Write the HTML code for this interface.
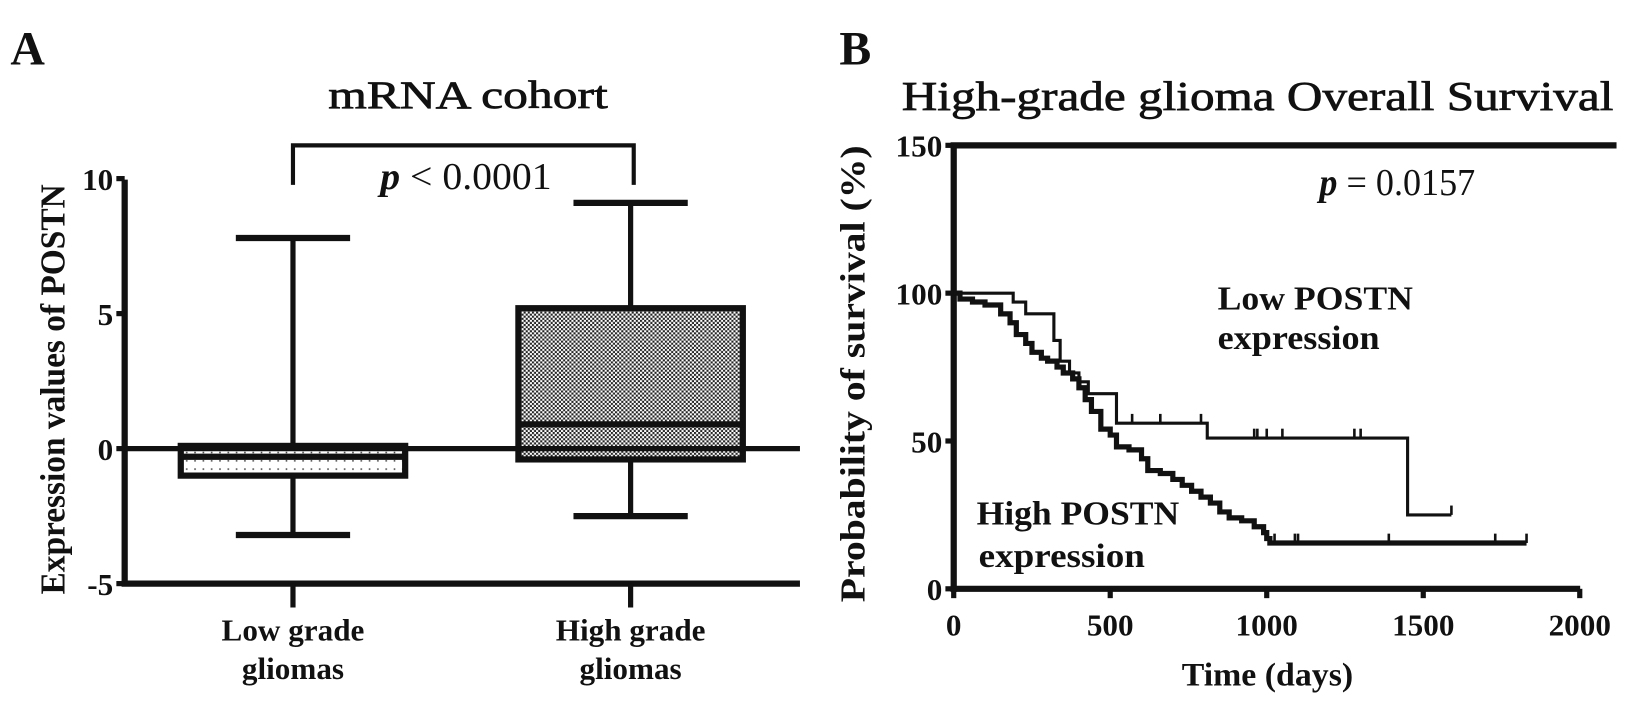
<!DOCTYPE html>
<html><head><meta charset="utf-8"><style>
html,body{margin:0;padding:0;background:#fff;}
svg{display:block;}
text{font-family:"Liberation Serif",serif;fill:#111;}
</style></head><body>
<svg id="s" width="1629" height="702" viewBox="0 0 1568 676" preserveAspectRatio="none">
<defs>
<pattern id="dots" width="8" height="8" patternUnits="userSpaceOnUse"><rect width="8" height="8" fill="#fff"/><rect x="3" y="3" width="1.5" height="1.5" fill="#444"/></pattern>
<pattern id="check" width="4" height="4" patternUnits="userSpaceOnUse"><rect width="4" height="4" fill="#fff"/><rect width="2" height="2" fill="#222"/><rect x="2" y="2" width="2" height="2" fill="#222"/></pattern>
</defs>
<text x="10" y="62" font-size="46" font-weight="bold">A</text>
<text x="808" y="62" font-size="46" font-weight="bold">B</text>
<text x="316" y="104" font-size="38" stroke="#111" stroke-width="0.7" textLength="269" lengthAdjust="spacingAndGlyphs">mRNA cohort</text>
<text x="868" y="106" font-size="40" stroke="#111" stroke-width="0.7" textLength="685" lengthAdjust="spacingAndGlyphs">High-grade glioma Overall Survival</text>
<text transform="translate(62,375) rotate(-90)" font-size="34" font-weight="bold" text-anchor="middle" textLength="395" lengthAdjust="spacingAndGlyphs">Expression values of POSTN</text>
<text transform="translate(832,360) rotate(-90)" font-size="34" font-weight="bold" text-anchor="middle" textLength="440" lengthAdjust="spacingAndGlyphs">Probability of survival (%)</text>
<text x="1220" y="660" font-size="32" font-weight="bold" text-anchor="middle" textLength="165" lengthAdjust="spacingAndGlyphs">Time (days)</text>
<text x="366" y="182" font-size="37" textLength="165" lengthAdjust="spacingAndGlyphs"><tspan font-style="italic" font-weight="bold">p</tspan> &lt; 0.0001</text>
<text x="1270" y="188" font-size="37" textLength="150" lengthAdjust="spacingAndGlyphs"><tspan font-style="italic" font-weight="bold">p</tspan> = 0.0157</text>
<text x="1172" y="298" font-size="33" font-weight="bold" textLength="188" lengthAdjust="spacingAndGlyphs">Low POSTN</text>
<text x="1172" y="336" font-size="33" font-weight="bold" textLength="156" lengthAdjust="spacingAndGlyphs">expression</text>
<text x="940" y="505" font-size="33" font-weight="bold" textLength="195" lengthAdjust="spacingAndGlyphs">High POSTN</text>
<text x="942" y="546" font-size="33" font-weight="bold" textLength="160" lengthAdjust="spacingAndGlyphs">expression</text>
<g id="A"></g><g id="B"></g>
</svg>
<script>
// Panel A data
const groups=["Low grade|gliomas","High grade|gliomas"];
const whiskLo=[-3.2,-2.5], q1=[-1.0,-0.4], med=[-0.3,0.9], q3=[0.1,5.2], whiskHi=[7.8,9.1];
const aTicks=[10,5,0,-5];
// Panel B data
const lowT=[0,190,230,320,340,370,400,430,520,810,1450], lowS=[100,97,93,84,77,73,70,66,56,51,25], lowEnd=1590;
const lowCens=[570,660,790,960,970,1000,1050,1280,1300,1590];
const highT=[0,20,60,100,150,180,200,230,250,280,300,330,350,380,400,420,440,470,500,520,560,600,620,660,700,730,760,790,820,850,880,920,960,990,1000,1010];
const highS=[100,98,97,96,93,90,86,83,80,78,77,75,73,71,68,64,60,54,52,48,47,44,40,39,37,35,33,31,29,26,24,23,21,19,17,15.5];
const highEnd=1830, highCens=[1025,1090,1100,1390,1730,1830];
const bYTicks=[0,50,100,150], bXTicks=[0,500,1000,1500,2000];
const NS="http://www.w3.org/2000/svg";
function el(p,t,a){const e=document.createElementNS(NS,t);for(const k in a)e.setAttribute(k,a[k]);p.appendChild(e);return e;}
const A=document.getElementById('A'),B=document.getElementById('B');
const ay=v=>432-v*26, ax=i=>282+i*325;
let e;
e=el(A,'line',{x1:120,y1:173,x2:120,y2:564,stroke:'#111','stroke-width':6});

e=el(A,'line',{x1:117,y1:562,x2:770,y2:562,stroke:'#111','stroke-width':6});

aTicks.forEach(v=>{el(A,'line',{x1:112,y1:ay(v),x2:120,y2:ay(v),stroke:'#111','stroke-width':5});
 e=el(A,'text',{x:109,y:ay(v)+11,'font-size':30,'font-weight':'bold','text-anchor':'end'});e.textContent=v;
 });
groups.forEach((g,i)=>{const x=ax(i);
 el(A,'line',{x1:x,y1:562,x2:x,y2:585,stroke:'#111','stroke-width':5});
 const [l1,l2]=g.split('|');
 e=el(A,'text',{x:x,y:617,'font-size':30,'font-weight':'bold','text-anchor':'middle'});e.textContent=l1;
 
 e=el(A,'text',{x:x,y:654,'font-size':30,'font-weight':'bold','text-anchor':'middle'});e.textContent=l2;
 
 const w=108;
 el(A,'line',{x1:x,y1:ay(whiskHi[i]),x2:x,y2:ay(whiskLo[i]),stroke:'#111','stroke-width':5});
 el(A,'line',{x1:x-55,y1:ay(whiskHi[i]),x2:x+55,y2:ay(whiskHi[i]),stroke:'#111','stroke-width':6});
 el(A,'line',{x1:x-55,y1:ay(whiskLo[i]),x2:x+55,y2:ay(whiskLo[i]),stroke:'#111','stroke-width':6});
 e=el(A,'rect',{x:x-w,y:ay(q3[i]),width:2*w,height:ay(q1[i])-ay(q3[i]),fill:i?'url(#check)':'url(#dots)',stroke:'#111','stroke-width':6});
 
 el(A,'line',{x1:x-w,y1:ay(med[i]),x2:x+w,y2:ay(med[i]),stroke:'#111','stroke-width':6});
});
el(A,'line',{x1:120,y1:ay(0),x2:770,y2:ay(0),stroke:'#111','stroke-width':5});
e=el(A,'path',{d:'M282 178 V140 H610 V178',fill:'none',stroke:'#111','stroke-width':4});

// Panel B
const bx=t=>918+t*0.3013, by=s=>567-s*2.847;
el(B,'line',{x1:918,y1:138,x2:918,y2:570,stroke:'#111','stroke-width':6});
el(B,'line',{x1:915,y1:140,x2:1556,y2:140,stroke:'#111','stroke-width':6});
el(B,'line',{x1:915,y1:567,x2:1521,y2:567,stroke:'#111','stroke-width':6});
bYTicks.forEach(v=>{el(B,'line',{x1:910,y1:by(v),x2:918,y2:by(v),stroke:'#111','stroke-width':5});
 e=el(B,'text',{x:907,y:by(v)+11,'font-size':30,'font-weight':'bold','text-anchor':'end'});e.textContent=v;
 });
bXTicks.forEach(v=>{el(B,'line',{x1:bx(v),y1:567,x2:bx(v),y2:576,stroke:'#111','stroke-width':5});
 e=el(B,'text',{x:bx(v),y:612,'font-size':30,'font-weight':'bold','text-anchor':'middle'});e.textContent=v;
 });
function step(T,S,end,cens,w,name){let d='M'+bx(T[0])+' '+by(S[0]);
 for(let i=1;i<T.length;i++){d+=' H'+bx(T[i])+' V'+by(S[i]);} d+=' H'+bx(end);
 e=el(B,'path',{d:d,fill:'none',stroke:'#111','stroke-width':w});
 
 cens.forEach(c=>{let s=S[0];for(let i=0;i<T.length;i++)if(T[i]<=c)s=S[i];
  el(B,'line',{x1:bx(c),y1:by(s),x2:bx(c),y2:by(s)-9,stroke:'#111','stroke-width':2.5});});}
step(lowT,lowS,lowEnd,lowCens,3,'low-postn-curve');
step(highT,highS,highEnd,highCens,5,'high-postn-curve');
</script>
</body></html>
